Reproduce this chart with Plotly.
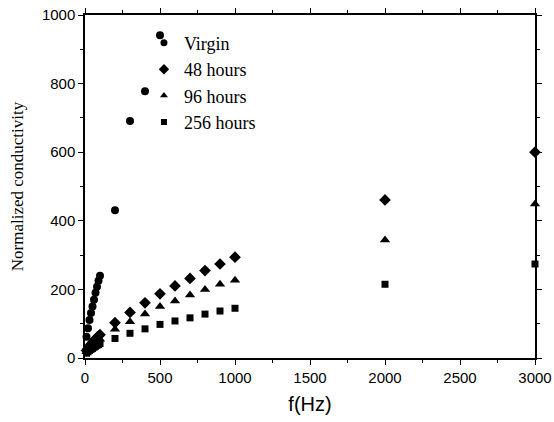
import plotly.graph_objects as go

# frequency points (Hz)
f_virgin = [10, 20, 30, 40, 50, 60, 70, 80, 90, 100, 200, 300, 400, 500]
f_aged = [10, 20, 30, 40, 50, 60, 70, 80, 90, 100,
          200, 300, 400, 500, 600, 700, 800, 900, 1000, 2000, 3000]

virgin = [62, 87, 111, 131, 150, 170, 190, 208, 225, 240, 431, 691, 778, 941]
h48 = [22, 28, 34, 40, 45, 50, 55, 60, 64, 68,
       103, 133, 161, 187, 210, 232, 255, 274, 294, 461, 600]
h96 = [18, 23, 28, 33, 37, 41, 45, 49, 52, 55,
       84, 106, 128, 150, 166, 184, 200, 215, 227, 344, 449]
h256 = [14, 18, 22, 25, 28, 31, 34, 37, 39, 42,
        57, 72, 85, 98, 108, 117, 128, 137, 145, 215, 274]

series = [
    ("Virgin", f_virgin, virgin, "circle", 8, 7),
    ("48 hours", f_aged, h48, "diamond", 9, 8),
    ("96 hours", f_aged, h96, "triangle-up", 9, 7),
    ("256 hours", f_aged, h256, "square", 7, 6),
]

fig = go.Figure()
for name, xs, ys, sym, sz, leg_sz in series:
    fig.add_trace(go.Scatter(
        x=xs, y=ys, mode="markers", name=name, showlegend=False,
        marker=dict(symbol=sym, size=sz, color="black"),
        cliponaxis=False,
    ))
    # legend-only entry with the smaller key symbol used in the original
    fig.add_trace(go.Scatter(
        x=[None], y=[None], mode="markers", name=name,
        marker=dict(symbol=sym, size=leg_sz, color="black"),
    ))

axis_common = dict(
    showline=True, linecolor="black", linewidth=1.5, mirror="allticks",
    ticks="outside", ticklen=5, tickcolor="black", showgrid=False,
    zeroline=False, automargin=False, ticklabeloverflow="allow",
    tickfont=dict(family="Liberation Sans, Arial", size=15, color="black"),
)

fig.update_layout(
    width=554, height=422,
    margin=dict(l=85, r=19, t=15, b=64),
    plot_bgcolor="white", paper_bgcolor="white",
    showlegend=True,
    legend=dict(
        x=0.131, y=0.972, xanchor="left", yanchor="top",
        bgcolor="rgba(0,0,0,0)", itemsizing="trace",
        font=dict(family="Liberation Serif, Times New Roman", size=18, color="black"),
        tracegroupgap=0, itemwidth=30,
    ),
    xaxis=dict(
        range=[0, 3000], dtick=500,
        minor=dict(ticks="outside", ticklen=3, dtick=250, tickcolor="black"),
        title=dict(text="f(Hz)", font=dict(family="Liberation Sans, Arial", size=20, color="black"),
                   standoff=12),
        **axis_common,
    ),
    yaxis=dict(
        range=[0, 1000], dtick=200,
        minor=dict(ticks="outside", ticklen=3, dtick=100, tickcolor="black"),
        title=dict(text="Normalized conductivity",
                   font=dict(family="Liberation Serif, Times New Roman", size=17, color="black"),
                   standoff=14),
        **axis_common,
    ),
)

# drop the default page margin so the 554x422 figure fills the window exactly
fig.write_html("out.html", config={"displayModeBar": False},
               post_script="document.body.style.margin='0';"
                           "document.body.style.overflow='hidden';")
